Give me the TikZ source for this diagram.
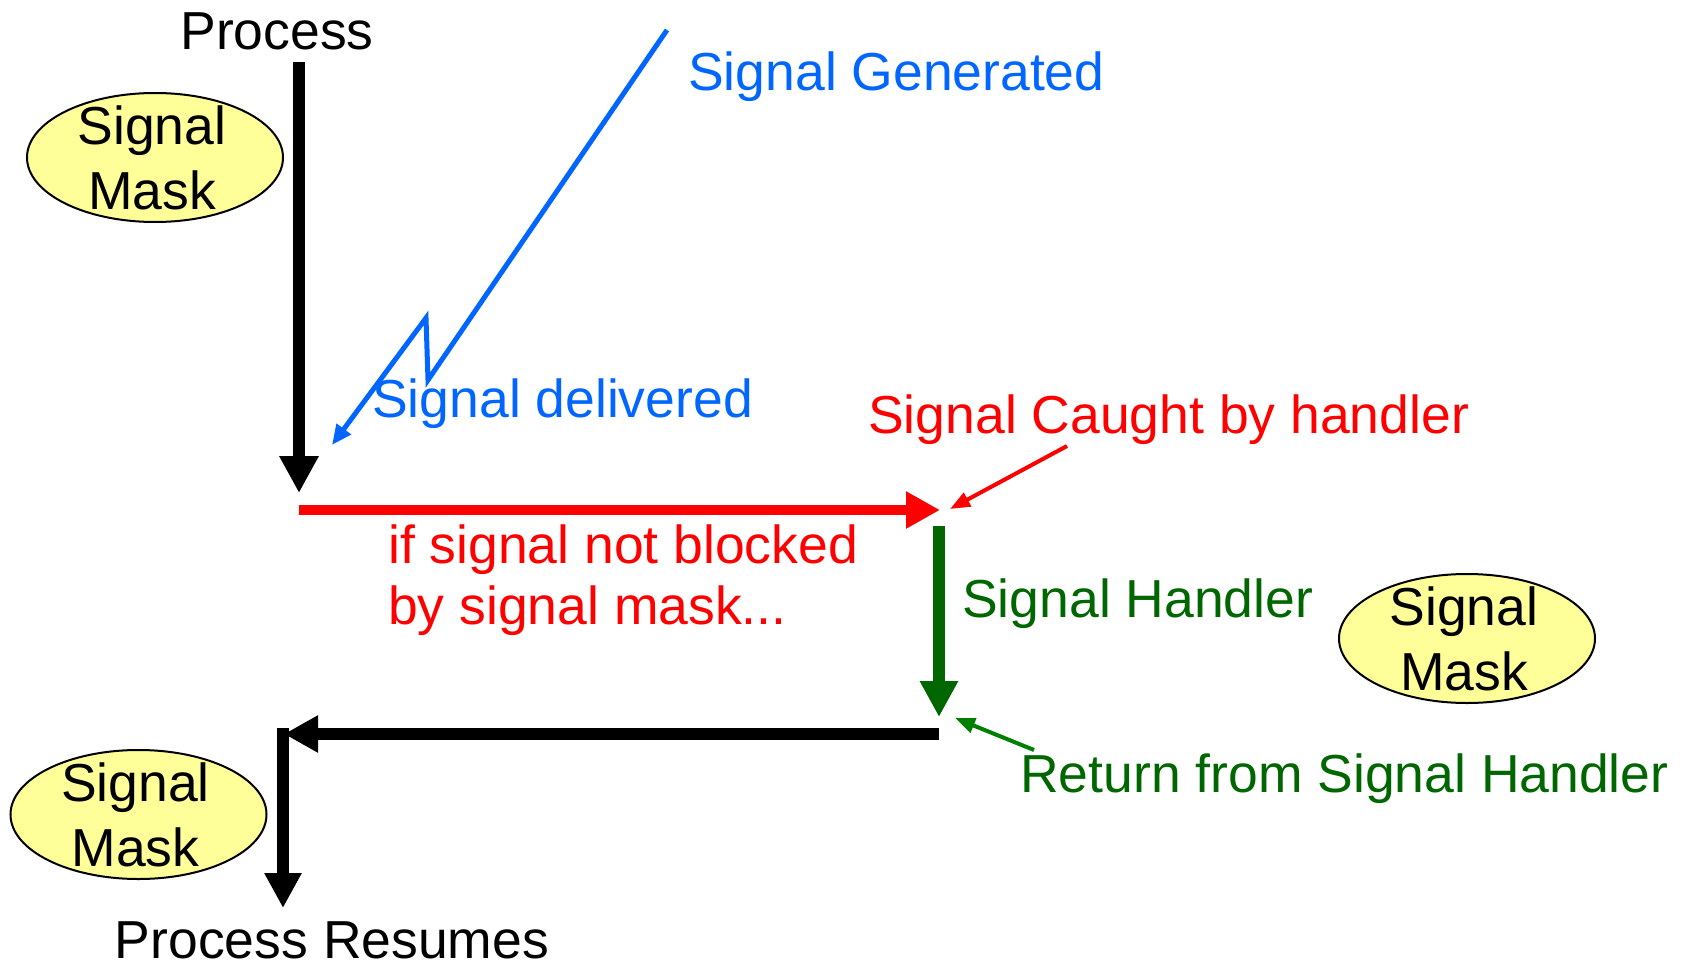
\documentclass[tikz,border=0pt]{standalone}
\usepackage{fontspec}
\setmainfont{Liberation Sans}
\usetikzlibrary{arrows.meta,shapes.geometric}
\definecolor{sigblue}{RGB}{0,102,255}
\definecolor{sigred}{RGB}{255,0,0}
\definecolor{darkgreen}{RGB}{0,102,0}
\definecolor{midgreen}{RGB}{0,128,0}
\definecolor{maskyellow}{RGB}{255,255,153}
\tikzset{
  lbl/.style={inner sep=0pt, font=\fontsize{53.5}{65}\selectfont},
  maskshape/.style={ellipse, draw=black, line width=2pt, fill=maskyellow, minimum width=256pt, minimum height=129pt, inner sep=0pt},
  masktext/.style={lbl, align=center},
  thick arrow/.style={line width=12pt, -{Triangle[length=36pt,width=36pt]}},
  thin arrow/.style={line width=4pt, -{Triangle[length=20pt,width=15pt]}},
}
\begin{document}
\begin{tikzpicture}[x=1pt,y=-1pt]
\useasboundingbox (0,0) rectangle (1682,966);
% texts
\node[lbl, anchor=base] (proc) at (277,50) {Process};
\node[lbl, anchor=base west, text=sigblue] (gen) at (688,90) {Signal Generated};
\node[lbl, anchor=base west, text=sigblue] (deliv) at (372,417) {Signal delivered};
\node[lbl, anchor=base west, text=sigred] (caught) at (868,433) {Signal Caught by handler};
\node[lbl, anchor=base west, text=sigred] (notblk) at (388,563) {if signal not blocked};
\node[lbl, anchor=base west, text=sigred] (notblk2) at (388,624) {by signal mask...};
\node[lbl, anchor=base west, text=darkgreen] (handler) at (962,617) {Signal Handler};
\node[lbl, anchor=base west, text=darkgreen] (ret) at (1020,792) {Return from Signal Handler};
\node[lbl, anchor=base] (resume) at (332,958) {Process Resumes};
% masks
\node[maskshape] (m1) at (155,157.5) {};
\node[masktext] at ([xshift=-3pt]m1.center) {Signal\\Mask};
\node[maskshape] (m2) at (1467,638.5) {};
\node[masktext] at ([xshift=-3pt]m2.center) {Signal\\Mask};
\node[maskshape] (m3) at (138.5,814.5) {};
\node[masktext] at ([xshift=-3pt]m3.center) {Signal\\Mask};
% coordinates
\coordinate (pTop) at (299,62);
\coordinate (pTip) at (299,493);
\coordinate (rStart) at (299,510);
\coordinate (rTip) at (940,510);
\coordinate (gTop) at (939,526);
\coordinate (gTip) at (939,717);
\coordinate (bStart) at (939,734);
\coordinate (bTip) at (284,734);
\coordinate (vTop) at (283,728);
\coordinate (vTip) at (283,908);
\coordinate (z0) at (667,30);
\coordinate (z1) at (428,380);
\coordinate (z2) at (426,318);
\coordinate (zTip) at (332,445);
\coordinate (cFrom) at (1067,446);
\coordinate (cTip) at (950,509);
\coordinate (rFrom) at (1034,750);
\coordinate (rtTip) at (955,718);
% arrows
\draw[thick arrow, black, -{Triangle[length=37pt,width=37pt]}] (pTop) -- (pTip);
\draw[line width=10pt, sigred, -{Triangle[length=34pt,width=35pt]}] (rStart) -- (rTip);
\draw[thick arrow, darkgreen] (gTop) -- (gTip);
\draw[line width=12pt, black, -{Triangle[length=34pt,width=35pt]}] (bStart) -- (bTip);
\draw[line width=12pt, black, -{Triangle[length=35pt,width=35pt]}] (vTop) -- (vTip);
\draw[line width=5pt, sigblue, miter limit=20, -{Triangle[length=20pt,width=17pt]}] (z0) -- (z1) -- (z2) -- (zTip);
\draw[thin arrow, sigred] (cFrom) -- (cTip);
\draw[thin arrow, midgreen] (rFrom) -- (rtTip);
\end{tikzpicture}
\end{document}
